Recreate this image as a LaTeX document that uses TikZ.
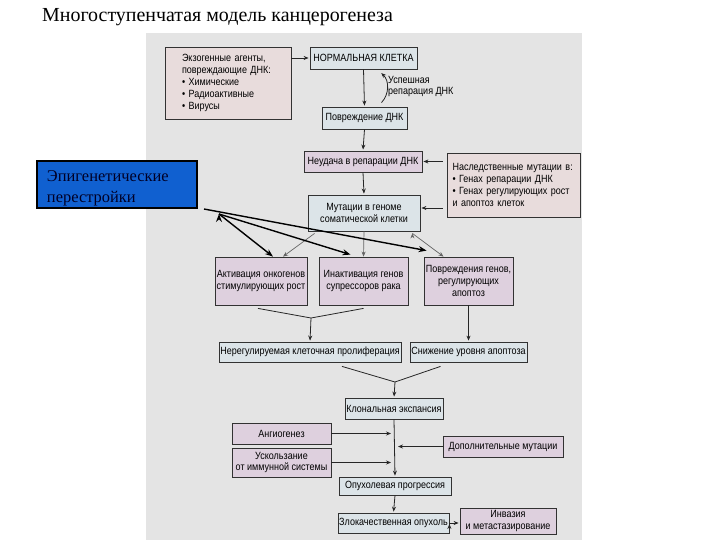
\documentclass[tikz,border=0pt]{standalone}
\usepackage{fontspec}
\setmainfont{Liberation Serif}
\newfontfamily\boxfont[FakeStretch=0.86]{Liberation Sans}
\usetikzlibrary{arrows.meta,positioning}
\definecolor{panelgray}{RGB}{228,228,228}
\definecolor{cellblue}{RGB}{220,228,232}
\definecolor{celllilac}{RGB}{222,208,222}
\definecolor{cellpink}{RGB}{232,220,220}
\definecolor{epiblue}{RGB}{16,96,208}
\definecolor{boxline}{RGB}{50,50,50}
\tikzset{
  box/.style={draw=boxline, line width=0.8bp, inner sep=1bp, align=center,
              font=\boxfont\fontsize{10.5}{12}\selectfont},
  bluebox/.style={box, fill=cellblue},
  lilacbox/.style={box, fill=celllilac},
  pinkbox/.style={box, fill=cellpink},
  epibox/.style={draw=black, line width=2bp, fill=epiblue, inner sep=1bp,
                 font=\fontsize{16.5}{21}\selectfont, text=black!85!blue},
  arr/.style={->, draw=black!85, line width=0.8bp, shorten >=1bp},
  thinarr/.style={->, draw=black!60, line width=0.7bp},
  epiarr/.style={-{Stealth[length=8bp,width=6bp]}, draw=black, line width=1.4bp}
}

\begin{document}
\begin{tikzpicture}[x=1bp, y=-1bp, >={Stealth[length=5bp,width=4bp]}]
        \useasboundingbox (0,0) rectangle (720,540);
        \fill[panelgray] (146,33) rectangle (582,540);
        \node[anchor=base west, inner sep=0pt, font=\fontsize{20}{23}\selectfont]
             (title) at (42,22) {Многоступенчатая модель канцерогенеза};

        % upper part
        \node[pinkbox, minimum width=126bp, minimum height=72bp, text width=92bp, align=left]
             (c_exo) at (228,83) {Экзогенные агенты,\\повреждающие ДНК:\\• Химические\\• Радиоактивные\\• Вирусы};
        \node[bluebox, minimum width=107bp, minimum height=22bp] (c_norm) at (363.5,58)  {НОРМАЛЬНАЯ КЛЕТКА};
        \node[bluebox, minimum width=85bp,  minimum height=22bp] (c_dmg)  at (364.5,118) {Повреждение ДНК};
        \node[lilacbox, minimum width=118bp, minimum height=21bp] (c_fail) at (363,161.5) {Неудача в репарации ДНК};
        \node[pinkbox, minimum width=133bp, minimum height=64bp, text width=122bp, align=left]
             (c_her) at (513.5,185) {Наследственные мутации в:\\• Генах репарации ДНК\\• Генах регулирующих рост\\и апоптоз клеток};
        \node[bluebox, minimum width=112bp, minimum height=36bp] (c_mut)  at (364,213) {Мутации в геноме\\соматической клетки};
        \node[anchor=west, inner sep=0pt, align=left, font=\boxfont\fontsize{10.5}{12}\selectfont]
             (l_rep) at (388,86.5) {Успешная\\репарация ДНК};

        \node[epibox, minimum width=160bp, minimum height=47bp, text width=140bp, align=left, text height=18bp]
             (c_epi) at (117,184.5) {Эпигенетические\\перестройки};

        % middle part
        \node[lilacbox, minimum width=92bp, minimum height=48bp] (c_act)   at (261,281)   {Активация онкогенов\\стимулирующих рост};
        \node[lilacbox, minimum width=89bp, minimum height=48bp] (c_inact) at (363.5,281) {Инактивация генов\\супрессоров рака};
        \node[lilacbox, minimum width=89bp, minimum height=48bp] (c_apo)   at (468.5,281) {Повреждения генов,\\регулирующих\\апоптоз};
        \node[bluebox, minimum width=182bp, minimum height=20bp] (c_prol)  at (310,352)   {Нерегулируемая клеточная пролиферация};
        \node[bluebox, minimum width=117bp, minimum height=20bp] (c_alow)  at (468.5,352) {Снижение уровня апоптоза};

        % lower part
        \node[bluebox, minimum width=98bp,  minimum height=21bp] (c_clon) at (394,408.5)  {Клональная экспансия};
        \node[lilacbox, minimum width=99bp, minimum height=21bp] (c_ang)  at (281.5,433.5) {Ангиогенез};
        \node[lilacbox, minimum width=99bp, minimum height=29bp] (c_esc)  at (281.5,462.5) {Ускользание\\от иммунной системы};
        \node[lilacbox, minimum width=120bp, minimum height=21bp] (c_add) at (503,446.5)  {Дополнительные мутации};
        \node[bluebox, minimum width=112bp, minimum height=18bp] (c_prog) at (395,486)    {Опухолевая прогрессия};
        \node[bluebox, minimum width=111bp, minimum height=20bp] (c_mal)  at (393.5,523)  {Злокачественная опухоль};
        \node[lilacbox, minimum width=96bp, minimum height=26bp] (c_inv)  at (508,521)    {Инвазия\\и метастазирование};

        \coordinate (h_mut) at ([yshift=5bp]c_mut.east);
        \coordinate (fan)   at ([shift={(21,5)}]c_epi.south east);
        \coordinate (m_1)   at (311,318);
        \coordinate (m_2)   at (395,382);

        \path[arr] (c_exo.east |- c_norm.west) edge (c_norm.west)
                   (c_norm.south) edge (c_dmg.north)
                   ([shift={(17,-4)}]c_dmg.north) edge [bend right=45] ([shift={(17,3)}]c_norm.south)
                   (c_dmg.south)  edge (c_fail.north)
                   (c_her.west |- c_fail.east) edge [shorten <=4bp] (c_fail.east)
                   (c_fail.south) edge (c_mut.north)
                   (c_her.west |- h_mut) edge [shorten <=4bp] (h_mut)
                   (m_1) edge (c_prol.north)
                   (c_apo.south) edge (c_alow.north)
                   (m_2) edge (c_clon.north)
                   (c_clon.south) edge (c_prog.north)
                   (c_ang.east) edge [shorten >=3bp] (c_ang.east -| c_clon.south)
                   (c_esc.east) edge [shorten >=3bp] (c_esc.east -| c_clon.south)
                   (c_add.west) edge [shorten >=4bp] (c_add.west -| c_clon.south)
                   (c_prog.south) edge (c_mal.north)
                   (c_mal.east) edge (c_mal.east -| c_inv.west);

        \path[thinarr] ([shift={(7,2)}]c_mut.south west)  edge ([xshift=22bp]c_act.north)
                       (c_mut.south)                      edge (c_inact.north)
                       ([shift={(-8,2)}]c_mut.south east) edge ([xshift=-25bp]c_apo.north);

        \path[epiarr] ([xshift=6bp]c_epi.south east) edge ([shift={(3,-6)}]c_apo.north west)
                      (fan) edge ([xshift=12bp]c_act.north)
                      (fan) edge ([shift={(-13,-2)}]c_inact.north);

        \draw[black!85, line width=0.8bp] ([shift={(-3,3)}]c_act.south) -- (m_1) -- ([yshift=-3bp]c_inact.south)
                                          ([shift={(32,4)}]c_prol.south) -- (m_2) -- ([shift={(-28,4)}]c_alow.south);
\end{tikzpicture}
\end{document}
